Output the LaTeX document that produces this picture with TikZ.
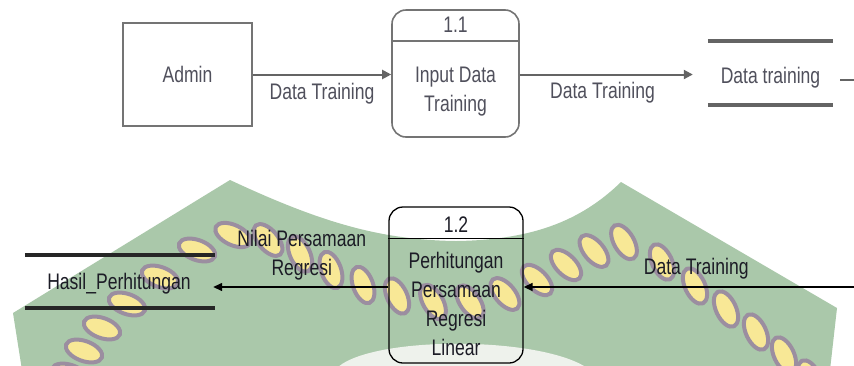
\documentclass[tikz,border=0pt]{standalone}
\usepackage{fontspec}
\setmainfont{Liberation Sans}[FakeStretch=0.78]
\usetikzlibrary{arrows.meta,calc}
\definecolor{wmgreen}{RGB}{170,200,170}
\definecolor{wmyellow}{RGB}{248,232,150}
\definecolor{wmedge}{RGB}{155,142,160}
\definecolor{wmwhite}{RGB}{238,242,236}
\definecolor{upline}{RGB}{100,100,100}
\definecolor{uptext}{RGB}{80,80,92}
\definecolor{lowtext}{RGB}{28,28,38}
\begin{document}
\begin{tikzpicture}[x=1pt,y=-1pt,
  every node/.style={font=\fontsize{22.5}{29}\selectfont, inner sep=0pt},
  uplbl/.style={text=uptext, align=center},
  lowlbl/.style={text=lowtext, align=center},
  entitybox/.style={draw=upline!90, line width=1.6pt, minimum width=129pt, minimum height=103pt, text=uptext},
  procup/.style={draw=upline!90, line width=1.6pt, rounded corners=14pt, minimum width=127pt, minimum height=127pt},
  proclow/.style={draw=black, line width=1.3pt, rounded corners=14pt, minimum width=134pt, minimum height=156pt},
  upflow/.style={draw=upline, line width=2pt, -{Triangle[length=9pt,width=9pt]}},
  lowflow/.style={draw=black, line width=1.4pt, -{Triangle[length=9pt,width=8pt]}},
  upstore/.style={draw=upline, line width=4.5pt},
  lowstore/.style={draw=black!85, line width=4pt},
  updiv/.style={draw=upline!90, line width=1.6pt},
  lowdiv/.style={draw=black, line width=1.3pt},
  leaf/.style={fill=wmyellow, draw=wmedge, line width=4pt},
]
\clip (0,0) rectangle (854,365);
\fill[white] (0,0) rectangle (854,365);
% watermark
\fill[wmgreen] (230,180) -- (13,313) -- (22,370) -- (830,370) -- (837,308) -- (621,182)
  .. controls (580,222) and (530,240) .. (456,241)
  .. controls (380,240) and (320,222) .. (230,180) -- cycle;
\fill[wmwhite] (335,370) .. controls (365,335) and (545,335) .. (590,370) -- cycle;
\foreach \lx/\ly/\la in {70/375/-20,84/351/-20,102/328/-20,127/304/-20,160/277/-20,197/250/-20,233/235/-25,
  268/240/-50,300/254/-65,331/270/-70,363/285/-70,397/296/-65,433/302/-60,470/302/-55,505/294/-50,
  537/280/-45,566/265/-45,594/251/-50,624/242/-60,
  662/262/-65,695/286/-65,726/309/-65,756/332/-65,784/355/-65,810/378/-65}
  \draw[leaf, rotate around={\la:(\lx,\ly)}] (\lx,\ly) ellipse (19 and 10);
% upper diagram
\node[entitybox] (admin) at (187.5,74.5) {Admin};
\node[procup] (p11) at (455.5,73.5) {};
\draw[updiv] ($(p11.north west)+(0,32)$) -- ($(p11.north east)+(0,32)$);
\node[uplbl] (n11) at ($(p11.north)+(0,15.5)$) {1.1};
\node[uplbl] (t11) at ($(p11.center)+(0,18.4)$) {Input Data\\Training};
\node[minimum width=125pt, minimum height=64pt] (ds1) at (770.5,73) {};
\node[uplbl] (t1) at ($(ds1.center)+(0,4.4)$) {Data training};
\draw[upstore] (ds1.north west) -- (ds1.north east);
\draw[upstore] (ds1.south west) -- (ds1.south east);
\draw[upflow] (admin.east) -- (admin.east -| p11.west)
  node[midway, below=7.5pt, uplbl] {Data Training};
\draw[upflow, shorten >=15pt] (p11.east |- admin.east) -- (admin.east -| ds1.west)
  node[pos=0.44, below=7pt, uplbl] {Data Training};
\coordinate (off1) at (862,80);
\draw[draw=upline, line width=2pt] ($(ds1.east)+(7,7)$) -- (off1);
% lower diagram
\node[proclow] (p12) at (456,285) {};
\draw[lowdiv] ($(p12.north west)+(0,32)$) -- ($(p12.north east)+(0,32)$);
\node[lowlbl] (n12) at ($(p12.north)+(0,18)$) {1.2};
\node[lowlbl] (t12) at ($(p12.center)+(0,18.5)$) {Perhitungan\\Persamaan\\Regresi\\Linear};
\node[minimum width=190pt, minimum height=53pt] (ds2) at (120,281.5) {};
\node[lowlbl] (t2) at ($(ds2.center)+(-1,2)$) {Hasil\_Perhitungan};
\draw[lowstore] (ds2.north west) -- (ds2.north east);
\draw[lowstore] (ds2.south west) -- (ds2.south east);
\coordinate (off2) at (862,287);
\draw[lowflow] (off2) -- (off2 -| p12.east)
  node[pos=0.49, above=7pt, lowlbl] {Data Training};
\draw[lowflow, shorten >=-2pt] (p12.west |- off2) -- (off2 -| ds2.east)
  node[midway, above=6pt, lowlbl] {Nilai Persamaan\\Regresi};
\end{tikzpicture}
\end{document}
